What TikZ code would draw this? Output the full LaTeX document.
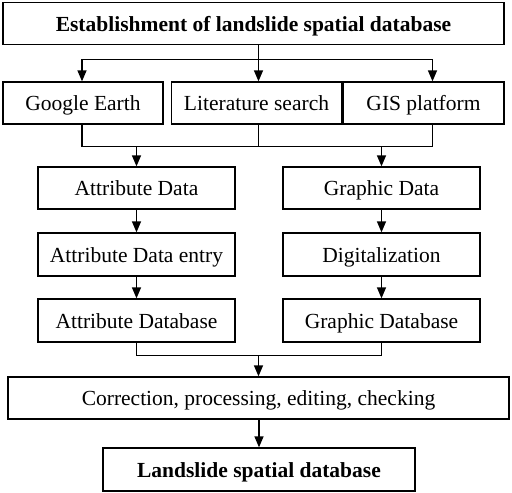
\documentclass[tikz,border=0pt]{standalone}
\usepackage{fontspec}
\setmainfont{Liberation Serif}
\usepackage{tikz}
\usetikzlibrary{arrows.meta, positioning, calc}

\begin{document}
\begin{tikzpicture}[x=1pt, y=-1pt,
      stepbox/.style={rectangle, draw=black, line width=1.3pt, fill=white, font=\fontsize{21.5}{24}\selectfont, inner sep=0pt, text height=20.6pt, text depth=5pt, minimum height=42pt, align=center},
      titlebox/.style={stepbox, font=\fontsize{21.5}{24}\selectfont\bfseries},
      link/.style={line width=1.3pt, black},
      arr/.style={-{Triangle[length=11pt, width=9pt]}, line width=1.3pt, black}
  ]
    \useasboundingbox (0,0) rectangle (512,493);

    % Top
    \node[titlebox, minimum width=501pt] (top) at (253.5, 23.5) {Establishment of landslide spatial database};

    % Sources
    \node[stepbox, minimum width=160pt] (ge) at (83, 103) {Google Earth};
    \node[stepbox, minimum width=170pt] (lit) at (256.5, 103) {Literature search};
    \node[stepbox, minimum width=161pt] (gis) at (423.5, 103) {GIS platform};

    % Left column
    \node[stepbox, minimum width=197pt] (ad) at (136.5, 188) {Attribute Data};
    \node[stepbox, minimum width=197pt, minimum height=43pt] (ade) at (136.5, 254.5) {Attribute Data entry};
    \node[stepbox, minimum width=197pt, minimum height=43pt] (adb) at (136.5, 320.5) {Attribute Database};

    % Right column
    \node[stepbox, minimum width=197pt] (gd) at (381.5, 188) {Graphic Data};
    \node[stepbox, minimum width=197pt, minimum height=43pt] (dig) at (381.5, 254.5) {Digitalization};
    \node[stepbox, minimum width=197pt, minimum height=43pt] (gdb) at (381.5, 320.5) {Graphic Database};

    % Bottom
    \node[stepbox, minimum width=501pt] (cor) at (258.5, 398) {Correction, processing, editing, checking};
    \node[titlebox, minimum width=312pt, minimum height=43pt] (lsd) at (259, 469.5) {Landslide spatial database};

    % Branch x positions
    \coordinate (cl) at (82, 0);
    \coordinate (cm) at (258.5, 0);
    \coordinate (cr) at (432.5, 0);

    % Connections
    \draw[link] (top.south -| cm) -- ++(0, 14) coordinate (bus);
    \draw[link] (bus -| cl) -- (bus -| cr);
    \draw[arr] (bus -| cl) -- (ge.north -| cl);
    \draw[arr] (bus) -- (lit.north -| cm);
    \draw[arr] (bus -| cr) -- (gis.north -| cr);

    \draw[link] (ge.south -| cl) -- ++(0, 22) coordinate (join);
    \draw[link] (join) -- (join -| cr) -- (gis.south -| cr);
    \draw[link] (lit.south -| cm) -- (join -| cm);
    \draw[arr] (join -| ad) -- (ad.north);
    \draw[arr] (join -| gd) -- (gd.north);

    \draw[arr] (ad) -- (ade); \draw[arr] (ade) -- (adb);
    \draw[arr] (gd) -- (dig); \draw[arr] (dig) -- (gdb);

    \draw[link] (adb.south) -- ++(0, 13) coordinate (merge) -| (gdb.south);
    \draw[arr] (merge -| cm) -- (cor.north -| cm);
    \draw[arr] (cor.south -| lsd) -- (lsd.north);
  \end{tikzpicture}
\end{document}
